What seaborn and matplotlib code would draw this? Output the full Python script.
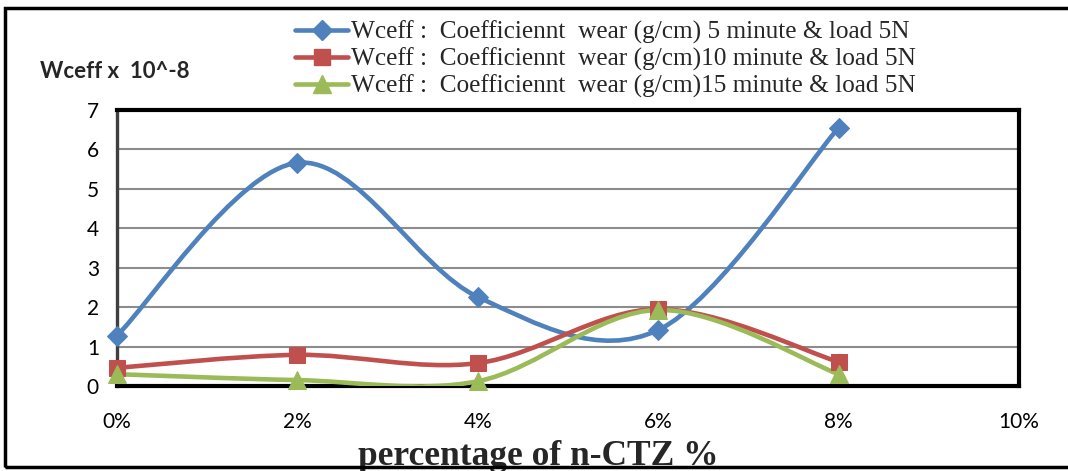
import numpy as np
import pandas as pd
import matplotlib
matplotlib.use("Agg")
import matplotlib.pyplot as plt
from matplotlib.path import Path
from matplotlib.patches import PathPatch, Rectangle
from matplotlib.lines import Line2D
import seaborn as sns

# ---- data ----
x_pct = [0, 2, 4, 6, 8]
x_ticks = [0, 2, 4, 6, 8, 10]
x_tick_labels = ["0%", "2%", "4%", "6%", "8%", "10%"]
y_ticks = [0, 1, 2, 3, 4, 5, 6, 7]
wear_5min = [1.28, 5.66, 2.26, 1.42, 6.55]
wear_10min = [0.46, 0.79, 0.58, 1.95, 0.61]
wear_15min = [0.30, 0.15, 0.12, 1.93, 0.30]
series_names = [
    "Wceff :  Coefficiennt  wear (g/cm) 5 minute & load 5N",
    "Wceff :  Coefficiennt  wear (g/cm)10 minute & load 5N",
    "Wceff :  Coefficiennt  wear (g/cm)15 minute & load 5N",
]
colors = ["#4F81BD", "#C0504D", "#9BBB59"]
markers = ["D", "s", "^"]
msizes = [10.5, 12, 13]

sns.set_style("white")
plt.rcParams["font.family"] = ["Lato", "DejaVu Sans"]

fig = plt.figure(figsize=(10.68, 4.71), dpi=100)
ax = fig.add_axes([117 / 1068, 1 - 386 / 471, (1019 - 117) / 1068, (386 - 110) / 471])

df = pd.DataFrame({
    "x": x_pct * 3,
    "y": wear_5min + wear_10min + wear_15min,
    "series": [series_names[0]] * 5 + [series_names[1]] * 5 + [series_names[2]] * 5,
})


def smooth_path(xs, ys):
    # Excel-style smoothed line: cubic Bezier with Catmull-Rom control points
    pts = np.column_stack([xs, ys]).astype(float)
    n = len(pts)
    verts = [pts[0]]
    codes = [Path.MOVETO]
    for i in range(n - 1):
        p0 = pts[i - 1] if i > 0 else pts[i]
        p1 = pts[i]
        p2 = pts[i + 1]
        p3 = pts[i + 2] if i + 2 < n else pts[i + 1]
        c1 = p1 + (p2 - p0) / 6.0
        c2 = p2 - (p3 - p1) / 6.0
        verts += [c1, c2, p2]
        codes += [Path.CURVE4] * 3
    return Path(verts, codes)


for name, c in zip(series_names, colors):
    sub = df[df["series"] == name]
    patch = PathPatch(smooth_path(sub["x"].values, sub["y"].values), facecolor="none",
                      edgecolor=c, lw=3.3, zorder=3, capstyle="round", joinstyle="round")
    ax.add_patch(patch)

for name, c, m, ms in zip(series_names, colors, markers, msizes):
    sub = df[df["series"] == name]
    sns.lineplot(data=sub, x="x", y="y", ax=ax, color=c, marker=m, markersize=ms,
                 linestyle="none", markeredgecolor=c, zorder=4, legend=False,
                 clip_on=False)

ax.set_xlim(0, 10)
ax.set_ylim(0, 7)
ax.set_xticks(x_ticks)
ax.set_xticklabels(x_tick_labels)
ax.set_yticks(y_ticks)
ax.grid(axis="y", color="#8c8c8c", lw=1.5)
ax.set_axisbelow(True)
ax.tick_params(axis="both", direction="out", length=5, width=1.2, color="#8c8c8c",
               labelsize=15, colors="#000000")
ax.tick_params(axis="x", pad=14)
ax.tick_params(axis="y", pad=8)
for lab in ax.get_xticklabels() + ax.get_yticklabels():
    lab.set_fontfamily(["Lato", "DejaVu Sans"])
    lab.set_color("black")
for s in ["top", "right", "bottom"]:
    ax.spines[s].set_color("black")
    ax.spines[s].set_linewidth(3)
ax.spines["left"].set_color("#404040")
ax.spines["left"].set_linewidth(2.4)
ax.set_xlabel("")
ax.set_ylabel("")

# y-axis title
fig.text(40 / 1068, 1 - 72 / 471, "Wceff x  10^-8", fontsize=16, fontweight="bold",
         family=["Lato", "DejaVu Sans"], ha="left", va="center")

# x-axis title (partly cut off at the bottom edge, as in the reference)
fig.text(538 / 1068, 1 - 465 / 471, "percentage of n-CTZ %", fontsize=25.5, fontweight="bold",
         family=["Liberation Serif", "DejaVu Serif"], ha="center", va="baseline")

# legend
handles = [Line2D([0], [0], color=c, lw=3.3, marker=m, markersize=ms, markeredgecolor=c)
           for c, m, ms in zip(colors, markers, msizes)]
fig.legend(handles, series_names, loc="upper left", bbox_to_anchor=(295 / 1068, 1 - 21 / 471),
           frameon=False, handlelength=2.1, handletextpad=0.1, labelspacing=0.14,
           borderpad=0, borderaxespad=0,
           prop={"family": ["Liberation Serif", "DejaVu Serif"], "size": 18.2})

# outer chart border
fig.patches.append(Rectangle((5 / 1068, 1 - 467 / 471), 1.2, (467 - 8) / 471,
                             transform=fig.transFigure, fill=False, edgecolor="black",
                             lw=2.5, zorder=10))

fig.savefig("out.png", dpi=100)
